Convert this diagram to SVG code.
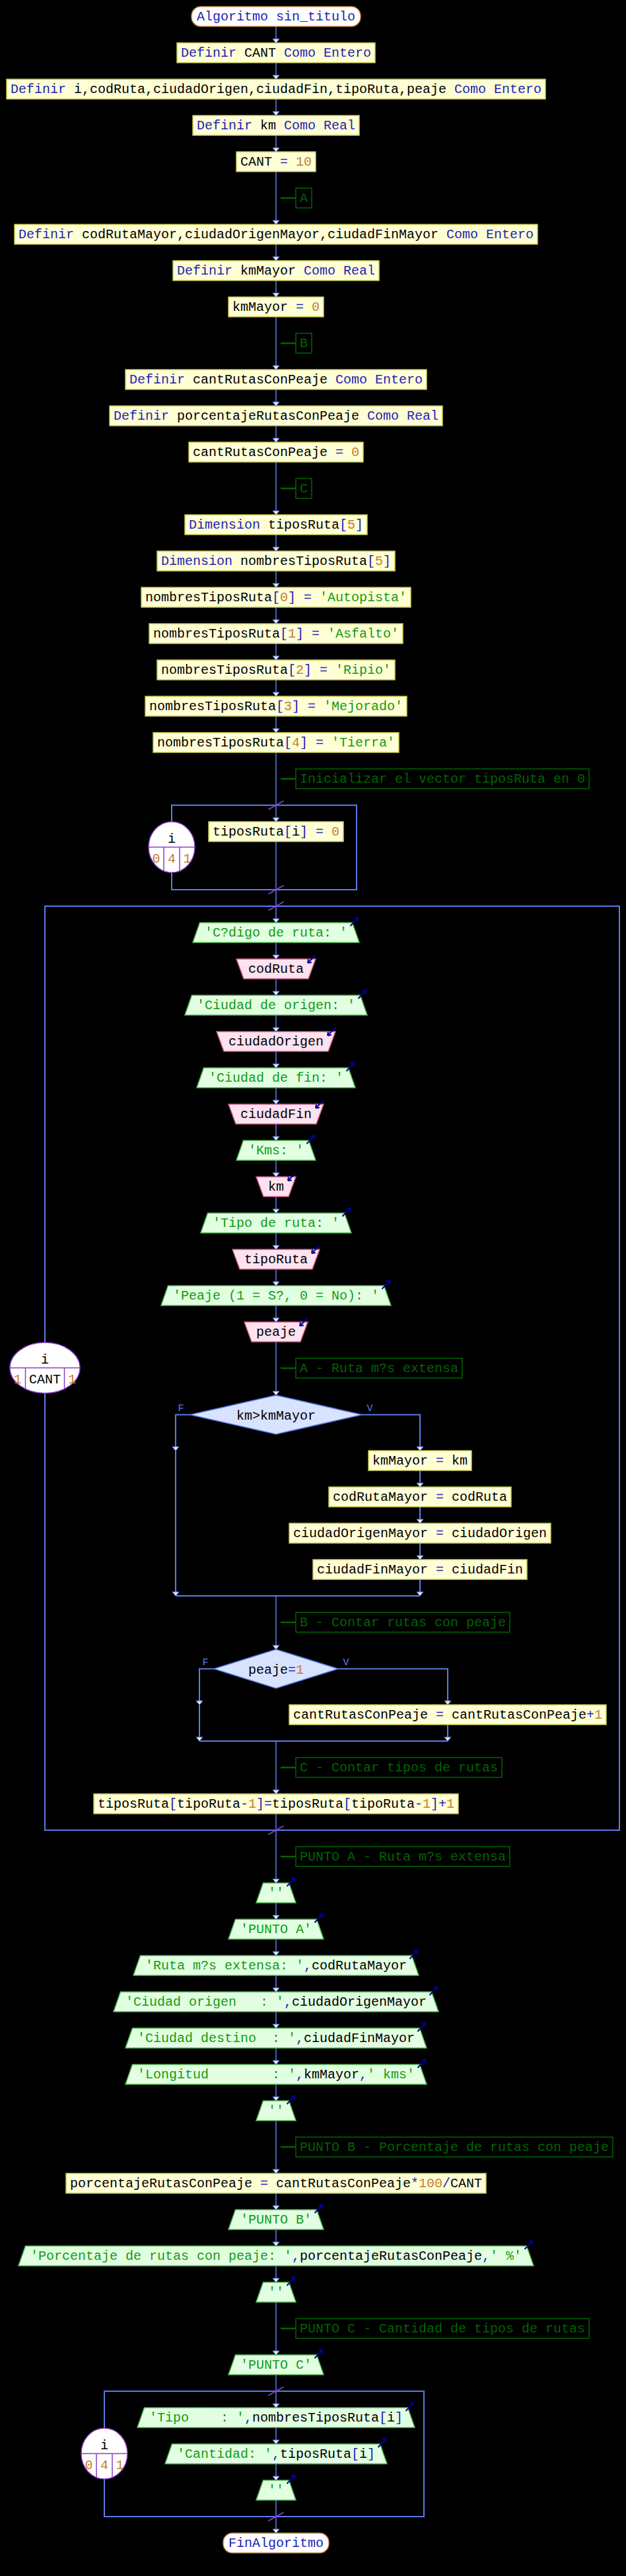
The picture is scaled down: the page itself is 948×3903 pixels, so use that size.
<svg xmlns="http://www.w3.org/2000/svg" width="948" height="3903" viewBox="0 0 948 3903">
<style>
.t{font-family:"Liberation Mono","DejaVu Sans Mono",monospace;font-size:20px;fill:#000;white-space:pre}
.m{text-anchor:middle}
.k{fill:#2323b5}
.n{fill:#c27d32}
.s{fill:#139b13}
.cmt{fill:#006400}
.pr{fill:#ffffd6;stroke:#c8c850;stroke-width:1.5}
.out{fill:#e2ffe2;stroke:#55bb55;stroke-width:1.5}
.in{fill:#ffe2ef;stroke:#cc5c8c;stroke-width:1.5}
.dec{fill:#d8e3ff;stroke:#5b7be8;stroke-width:1.5}
.term{fill:#fff;stroke:#c48a48;stroke-width:1.5}
.cb{fill:none;stroke:#006400;stroke-width:1.5}
.stub{stroke:#006400;stroke-width:2.5}
.ln{fill:none;stroke:#5b7be8;stroke-width:1.5}
.lp{fill:none;stroke:#5b7be8;stroke-width:2}
.sl{stroke:#8a3cc8;stroke-width:2}
.el{fill:#fff;stroke:#8a3cc8;stroke-width:1.5}
.ed{stroke:#8a3cc8;stroke-width:1.5}
.io{fill:none;stroke:#000099;stroke-width:2}
.fv{font-family:"Liberation Mono",monospace;font-size:15px;fill:#5b7be8;text-anchor:middle}
</style>
<defs>
<marker id="ah" viewBox="-7 -6 8 12" refX="0" refY="0" markerWidth="8" markerHeight="12" markerUnits="userSpaceOnUse" orient="auto"><path d="M-6,-5 L0,0 L-6,5 Z" fill="#e4ebff" stroke="#5b7be8" stroke-width="1"/></marker>
<path id="oa" d="M-3,5 L9,-8 M9,-8 L3.1,-6.7 M9,-8 L8.2,-2.1" class="io"/>
<path id="ia" d="M0,-6 L-12,6 M-12,6 L-6.1,5 M-12,6 L-11,0.1" class="io"/>
</defs>
<rect x="0" y="0" width="948" height="3903" fill="#000"/>

<g id="connectors">
<g class="ln" marker-end="url(#ah)">
<path d="M418,40 V65"/><path d="M418,95 V120"/><path d="M418,150 V175"/><path d="M418,205 V230"/>
<path d="M418,260 V340"/><path d="M418,370 V395"/><path d="M418,425 V450"/><path d="M418,480 V560"/>
<path d="M418,590 V615"/><path d="M418,645 V670"/><path d="M418,700 V780"/><path d="M418,810 V835"/>
<path d="M418,865 V890"/><path d="M418,920 V945"/><path d="M418,975 V1000"/><path d="M418,1030 V1055"/>
<path d="M418,1085 V1110"/><path d="M418,1140 V1245"/><path d="M418,1348 V1398"/>
<path d="M418,1428 V1453"/><path d="M418,1483 V1508"/><path d="M418,1538 V1563"/><path d="M418,1593 V1618"/>
<path d="M418,1648 V1673"/><path d="M418,1703 V1728"/><path d="M418,1758 V1783"/><path d="M418,1813 V1838"/>
<path d="M418,1868 V1893"/><path d="M418,1923 V1948"/><path d="M418,1978 V2003"/><path d="M418,2033 V2114"/>
<path d="M418,2418 V2499"/><path d="M418,2638 V2718"/><path d="M418,2773 V2853"/>
<path d="M418,2883 V2908"/><path d="M418,2938 V2963"/><path d="M418,2993 V3018"/><path d="M418,3048 V3073"/>
<path d="M418,3103 V3128"/><path d="M418,3158 V3183"/><path d="M418,3213 V3293"/><path d="M418,3323 V3348"/>
<path d="M418,3378 V3403"/><path d="M418,3433 V3458"/><path d="M418,3488 V3568"/><path d="M418,3598 V3648"/>
<path d="M418,3678 V3703"/><path d="M418,3733 V3758"/><path d="M418,3788 V3838"/>
</g>
<path class="ln" d="M418,1275 V1348"/>
<path class="ln" d="M418,2748 V2773"/>
<g class="lp" marker-end="url(#ah)">
<path d="M288,2143.5 H266 V2198"/><path d="M266,2198 V2418"/>
<path d="M548,2143.5 H636 V2198"/>
<path d="M636,2228 V2253"/><path d="M636,2283 V2308"/><path d="M636,2338 V2363"/><path d="M636,2393 V2418"/>
<path d="M324,2528.5 H302 V2583"/><path d="M302,2583 V2638"/>
<path d="M512,2528.5 H678 V2583"/><path d="M678,2613 V2638"/>
</g>
<path class="lp" d="M266,2418 H636"/>
<path class="lp" d="M302,2638 H678"/>
<path class="lp" d="M260,1245 V1220 H540 V1348 H260 V1322"/>
<path class="lp" d="M68,2034 V1373 H938 V2773 H68 V2111"/>
<path class="lp" d="M158,3679 V3623 H642 V3813 H158 V3756"/>
<line class="sl" x1="406.5" y1="1226.5" x2="429.5" y2="1213.5"/>
<line class="sl" x1="406.5" y1="1354.5" x2="429.5" y2="1341.5"/>
<line class="sl" x1="406.5" y1="1379.5" x2="429.5" y2="1366.5"/>
<line class="sl" x1="406.5" y1="2779.5" x2="429.5" y2="2766.5"/>
<line class="sl" x1="406.5" y1="3629.5" x2="429.5" y2="3616.5"/>
<line class="sl" x1="406.5" y1="3819.5" x2="429.5" y2="3806.5"/>
<text class="fv" x="274" y="2138">F</text><text class="fv" x="560" y="2138">V</text>
<text class="fv" x="311" y="2523">F</text><text class="fv" x="524" y="2523">V</text>
</g>

<g id="start"><rect class="term" x="290" y="10" width="256" height="30" rx="14"/><text class="t m k" x="418" y="31">Algoritmo sin_titulo</text></g>
<g id="n2"><rect class="pr" x="268" y="65" width="300" height="30"/><text class="t m" x="418" y="86"><tspan class="k">Definir</tspan> CANT <tspan class="k">Como Entero</tspan></text></g>
<g id="n3"><rect class="pr" x="10" y="120" width="816" height="30"/><text class="t m" x="418" y="141"><tspan class="k">Definir</tspan> i,codRuta,ciudadOrigen,ciudadFin,tipoRuta,peaje <tspan class="k">Como Entero</tspan></text></g>
<g id="n4"><rect class="pr" x="292" y="175" width="252" height="30"/><text class="t m" x="418" y="196"><tspan class="k">Definir</tspan> km <tspan class="k">Como Real</tspan></text></g>
<g id="n5"><rect class="pr" x="358" y="230" width="120" height="30"/><text class="t m" x="418" y="251">CANT <tspan class="k">=</tspan> <tspan class="n">10</tspan></text></g>
<g id="c1"><line class="stub" x1="425" y1="300" x2="448" y2="300"/><rect class="cb" x="448" y="285" width="24" height="30"/><text class="t cmt" x="454" y="306">A</text></g>
<g id="n6"><rect class="pr" x="22" y="340" width="792" height="30"/><text class="t m" x="418" y="361"><tspan class="k">Definir</tspan> codRutaMayor,ciudadOrigenMayor,ciudadFinMayor <tspan class="k">Como Entero</tspan></text></g>
<g id="n7"><rect class="pr" x="262" y="395" width="312" height="30"/><text class="t m" x="418" y="416"><tspan class="k">Definir</tspan> kmMayor <tspan class="k">Como Real</tspan></text></g>
<g id="n8"><rect class="pr" x="346" y="450" width="144" height="30"/><text class="t m" x="418" y="471">kmMayor <tspan class="k">=</tspan> <tspan class="n">0</tspan></text></g>
<g id="c2"><line class="stub" x1="425" y1="520" x2="448" y2="520"/><rect class="cb" x="448" y="505" width="24" height="30"/><text class="t cmt" x="454" y="526">B</text></g>
<g id="n9"><rect class="pr" x="190" y="560" width="456" height="30"/><text class="t m" x="418" y="581"><tspan class="k">Definir</tspan> cantRutasConPeaje <tspan class="k">Como Entero</tspan></text></g>
<g id="n10"><rect class="pr" x="166" y="615" width="504" height="30"/><text class="t m" x="418" y="636"><tspan class="k">Definir</tspan> porcentajeRutasConPeaje <tspan class="k">Como Real</tspan></text></g>
<g id="n11"><rect class="pr" x="286" y="670" width="264" height="30"/><text class="t m" x="418" y="691">cantRutasConPeaje <tspan class="k">=</tspan> <tspan class="n">0</tspan></text></g>
<g id="c3"><line class="stub" x1="425" y1="740" x2="448" y2="740"/><rect class="cb" x="448" y="725" width="24" height="30"/><text class="t cmt" x="454" y="746">C</text></g>
<g id="n12"><rect class="pr" x="280" y="780" width="276" height="30"/><text class="t m" x="418" y="801"><tspan class="k">Dimension</tspan> tiposRuta<tspan class="k">[</tspan><tspan class="n">5</tspan><tspan class="k">]</tspan></text></g>
<g id="n13"><rect class="pr" x="238" y="835" width="360" height="30"/><text class="t m" x="418" y="856"><tspan class="k">Dimension</tspan> nombresTiposRuta<tspan class="k">[</tspan><tspan class="n">5</tspan><tspan class="k">]</tspan></text></g>
<g id="n14"><rect class="pr" x="214" y="890" width="408" height="30"/><text class="t m" x="418" y="911">nombresTiposRuta<tspan class="k">[</tspan><tspan class="n">0</tspan><tspan class="k">]</tspan> <tspan class="k">=</tspan> <tspan class="s">'Autopista'</tspan></text></g>
<g id="n15"><rect class="pr" x="226" y="945" width="384" height="30"/><text class="t m" x="418" y="966">nombresTiposRuta<tspan class="k">[</tspan><tspan class="n">1</tspan><tspan class="k">]</tspan> <tspan class="k">=</tspan> <tspan class="s">'Asfalto'</tspan></text></g>
<g id="n16"><rect class="pr" x="238" y="1000" width="360" height="30"/><text class="t m" x="418" y="1021">nombresTiposRuta<tspan class="k">[</tspan><tspan class="n">2</tspan><tspan class="k">]</tspan> <tspan class="k">=</tspan> <tspan class="s">'Ripio'</tspan></text></g>
<g id="n17"><rect class="pr" x="220" y="1055" width="396" height="30"/><text class="t m" x="418" y="1076">nombresTiposRuta<tspan class="k">[</tspan><tspan class="n">3</tspan><tspan class="k">]</tspan> <tspan class="k">=</tspan> <tspan class="s">'Mejorado'</tspan></text></g>
<g id="n18"><rect class="pr" x="232" y="1110" width="372" height="30"/><text class="t m" x="418" y="1131">nombresTiposRuta<tspan class="k">[</tspan><tspan class="n">4</tspan><tspan class="k">]</tspan> <tspan class="k">=</tspan> <tspan class="s">'Tierra'</tspan></text></g>
<g id="c4"><line class="stub" x1="425" y1="1180" x2="448" y2="1180"/><rect class="cb" x="448" y="1165" width="444" height="30"/><text class="t cmt" x="454" y="1186">Inicializar el vector tiposRuta en 0</text></g>
<g id="loop1"><ellipse class="el" cx="260" cy="1283.5" rx="35" ry="38.5"/><line class="ed" x1="225" y1="1283.5" x2="295" y2="1283.5"/><line class="ed" x1="248" y1="1283.5" x2="248" y2="1319.7"/><line class="ed" x1="272" y1="1283.5" x2="272" y2="1319.7"/><text class="t m" x="260" y="1277">i</text><text class="t m n" x="236.5" y="1307">0</text><text class="t m n" x="260" y="1307">4</text><text class="t m n" x="283.5" y="1307">1</text></g>
<g id="n19"><rect class="pr" x="316" y="1245" width="204" height="30"/><text class="t m" x="418" y="1266">tiposRuta<tspan class="k">[</tspan>i<tspan class="k">]</tspan> <tspan class="k">=</tspan> <tspan class="n">0</tspan></text></g>
<g id="loop2"><ellipse class="el" cx="68" cy="2072.5" rx="53" ry="38.5"/><line class="ed" x1="15" y1="2072.5" x2="121" y2="2072.5"/><line class="ed" x1="38.5" y1="2072.5" x2="38.5" y2="2104.5"/><line class="ed" x1="97.5" y1="2072.5" x2="97.5" y2="2104.5"/><text class="t m" x="68" y="2066">i</text><text class="t m n" x="26.75" y="2096">1</text><text class="t m" x="68" y="2096">CANT</text><text class="t m n" x="109.25" y="2096">1</text></g>
<g id="n20"><polygon class="out" points="302.5,1398 533.5,1398 544,1428 292,1428"/><text class="t m s" x="418" y="1419">'C?digo de ruta: '</text><use href="#oa" x="533.5" y="1398"/></g>
<g id="n21"><polygon class="in" points="358,1453 478,1453 467,1483 369,1483"/><text class="t m" x="418" y="1474">codRuta</text><use href="#ia" x="478" y="1453"/></g>
<g id="n22"><polygon class="out" points="290.5,1508 545.5,1508 556,1538 280,1538"/><text class="t m s" x="418" y="1529">'Ciudad de origen: '</text><use href="#oa" x="545.5" y="1508"/></g>
<g id="n23"><polygon class="in" points="328,1563 508,1563 497,1593 339,1593"/><text class="t m" x="418" y="1584">ciudadOrigen</text><use href="#ia" x="508" y="1563"/></g>
<g id="n24"><polygon class="out" points="308.5,1618 527.5,1618 538,1648 298,1648"/><text class="t m s" x="418" y="1639">'Ciudad de fin: '</text><use href="#oa" x="527.5" y="1618"/></g>
<g id="n25"><polygon class="in" points="346,1673 490,1673 479,1703 357,1703"/><text class="t m" x="418" y="1694">ciudadFin</text><use href="#ia" x="490" y="1673"/></g>
<g id="n26"><polygon class="out" points="368.5,1728 467.5,1728 478,1758 358,1758"/><text class="t m s" x="418" y="1749">'Kms: '</text><use href="#oa" x="467.5" y="1728"/></g>
<g id="n27"><polygon class="in" points="388,1783 448,1783 437,1813 399,1813"/><text class="t m" x="418" y="1804">km</text><use href="#ia" x="448" y="1783"/></g>
<g id="n28"><polygon class="out" points="314.5,1838 521.5,1838 532,1868 304,1868"/><text class="t m s" x="418" y="1859">'Tipo de ruta: '</text><use href="#oa" x="521.5" y="1838"/></g>
<g id="n29"><polygon class="in" points="352,1893 484,1893 473,1923 363,1923"/><text class="t m" x="418" y="1914">tipoRuta</text><use href="#ia" x="484" y="1893"/></g>
<g id="n30"><polygon class="out" points="254.5,1948 581.5,1948 592,1978 244,1978"/><text class="t m s" x="418" y="1969">'Peaje (1 = S?, 0 = No): '</text><use href="#oa" x="581.5" y="1948"/></g>
<g id="n31"><polygon class="in" points="370,2003 466,2003 455,2033 381,2033"/><text class="t m" x="418" y="2024">peaje</text><use href="#ia" x="466" y="2003"/></g>
<g id="c5"><line class="stub" x1="425" y1="2073" x2="448" y2="2073"/><rect class="cb" x="448" y="2058" width="252" height="30"/><text class="t cmt" x="454" y="2079">A - Ruta m?s extensa</text></g>
<g id="d1"><polygon class="dec" points="418,2114 548,2143.5 418,2173 288,2143.5"/><text class="t m" x="418" y="2150.5">km&gt;kmMayor</text></g>
<g id="n33"><rect class="pr" x="558" y="2198" width="156" height="30"/><text class="t m" x="636" y="2219">kmMayor <tspan class="k">=</tspan> km</text></g>
<g id="n34"><rect class="pr" x="498" y="2253" width="276" height="30"/><text class="t m" x="636" y="2274">codRutaMayor <tspan class="k">=</tspan> codRuta</text></g>
<g id="n35"><rect class="pr" x="438" y="2308" width="396" height="30"/><text class="t m" x="636" y="2329">ciudadOrigenMayor <tspan class="k">=</tspan> ciudadOrigen</text></g>
<g id="n36"><rect class="pr" x="474" y="2363" width="324" height="30"/><text class="t m" x="636" y="2384">ciudadFinMayor <tspan class="k">=</tspan> ciudadFin</text></g>
<g id="c6"><line class="stub" x1="425" y1="2458" x2="448" y2="2458"/><rect class="cb" x="448" y="2443" width="324" height="30"/><text class="t cmt" x="454" y="2464">B - Contar rutas con peaje</text></g>
<g id="d2"><polygon class="dec" points="418,2499 512,2528.5 418,2558 324,2528.5"/><text class="t m" x="418" y="2535.5">peaje<tspan class="k">=</tspan><tspan class="n">1</tspan></text></g>
<g id="n38"><rect class="pr" x="438" y="2583" width="480" height="30"/><text class="t m" x="678" y="2604">cantRutasConPeaje <tspan class="k">=</tspan> cantRutasConPeaje<tspan class="k">+</tspan><tspan class="n">1</tspan></text></g>
<g id="c7"><line class="stub" x1="425" y1="2678" x2="448" y2="2678"/><rect class="cb" x="448" y="2663" width="312" height="30"/><text class="t cmt" x="454" y="2684">C - Contar tipos de rutas</text></g>
<g id="n39"><rect class="pr" x="142" y="2718" width="552" height="30"/><text class="t m" x="418" y="2739">tiposRuta<tspan class="k">[</tspan>tipoRuta<tspan class="k">-</tspan><tspan class="n">1</tspan><tspan class="k">]=</tspan>tiposRuta<tspan class="k">[</tspan>tipoRuta<tspan class="k">-</tspan><tspan class="n">1</tspan><tspan class="k">]+</tspan><tspan class="n">1</tspan></text></g>
<g id="c8"><line class="stub" x1="425" y1="2813" x2="448" y2="2813"/><rect class="cb" x="448" y="2798" width="324" height="30"/><text class="t cmt" x="454" y="2819">PUNTO A - Ruta m?s extensa</text></g>
<g id="n40"><polygon class="out" points="398.5,2853 437.5,2853 448,2883 388,2883"/><text class="t m s" x="418" y="2874">''</text><use href="#oa" x="437.5" y="2853"/></g>
<g id="n41"><polygon class="out" points="356.5,2908 479.5,2908 490,2938 346,2938"/><text class="t m s" x="418" y="2929">'PUNTO A'</text><use href="#oa" x="479.5" y="2908"/></g>
<g id="n42"><polygon class="out" points="212.5,2963 623.5,2963 634,2993 202,2993"/><text class="t m" x="418" y="2984"><tspan class="s">'Ruta m?s extensa: '</tspan><tspan class="k">,</tspan>codRutaMayor</text><use href="#oa" x="623.5" y="2963"/></g>
<g id="n43"><polygon class="out" points="182.5,3018 653.5,3018 664,3048 172,3048"/><text class="t m" x="418" y="3039" xml:space="preserve"><tspan class="s">'Ciudad origen   : '</tspan><tspan class="k">,</tspan>ciudadOrigenMayor</text><use href="#oa" x="653.5" y="3018"/></g>
<g id="n44"><polygon class="out" points="200.5,3073 635.5,3073 646,3103 190,3103"/><text class="t m" x="418" y="3094" xml:space="preserve"><tspan class="s">'Ciudad destino  : '</tspan><tspan class="k">,</tspan>ciudadFinMayor</text><use href="#oa" x="635.5" y="3073"/></g>
<g id="n45"><polygon class="out" points="200.5,3128 635.5,3128 646,3158 190,3158"/><text class="t m" x="418" y="3149" xml:space="preserve"><tspan class="s">'Longitud        : '</tspan><tspan class="k">,</tspan>kmMayor<tspan class="k">,</tspan><tspan class="s">' kms'</tspan></text><use href="#oa" x="635.5" y="3128"/></g>
<g id="n46"><polygon class="out" points="398.5,3183 437.5,3183 448,3213 388,3213"/><text class="t m s" x="418" y="3204">''</text><use href="#oa" x="437.5" y="3183"/></g>
<g id="c9"><line class="stub" x1="425" y1="3253" x2="448" y2="3253"/><rect class="cb" x="448" y="3238" width="480" height="30"/><text class="t cmt" x="454" y="3259">PUNTO B - Porcentaje de rutas con peaje</text></g>
<g id="n47"><rect class="pr" x="100" y="3293" width="636" height="30"/><text class="t m" x="418" y="3314">porcentajeRutasConPeaje <tspan class="k">=</tspan> cantRutasConPeaje<tspan class="k">*</tspan><tspan class="n">100</tspan><tspan class="k">/</tspan>CANT</text></g>
<g id="n48"><polygon class="out" points="356.5,3348 479.5,3348 490,3378 346,3378"/><text class="t m s" x="418" y="3369">'PUNTO B'</text><use href="#oa" x="479.5" y="3348"/></g>
<g id="n49"><polygon class="out" points="38.5,3403 797.5,3403 808,3433 28,3433"/><text class="t m" x="418" y="3424"><tspan class="s">'Porcentaje de rutas con peaje: '</tspan><tspan class="k">,</tspan>porcentajeRutasConPeaje<tspan class="k">,</tspan><tspan class="s">' %'</tspan></text><use href="#oa" x="797.5" y="3403"/></g>
<g id="n50"><polygon class="out" points="398.5,3458 437.5,3458 448,3488 388,3488"/><text class="t m s" x="418" y="3479">''</text><use href="#oa" x="437.5" y="3458"/></g>
<g id="c10"><line class="stub" x1="425" y1="3528" x2="448" y2="3528"/><rect class="cb" x="448" y="3513" width="444" height="30"/><text class="t cmt" x="454" y="3534">PUNTO C - Cantidad de tipos de rutas</text></g>
<g id="n51"><polygon class="out" points="356.5,3568 479.5,3568 490,3598 346,3598"/><text class="t m s" x="418" y="3589">'PUNTO C'</text><use href="#oa" x="479.5" y="3568"/></g>
<g id="loop3"><ellipse class="el" cx="158" cy="3717.5" rx="35" ry="38.5"/><line class="ed" x1="123" y1="3717.5" x2="193" y2="3717.5"/><line class="ed" x1="146" y1="3717.5" x2="146" y2="3753.7"/><line class="ed" x1="170" y1="3717.5" x2="170" y2="3753.7"/><text class="t m" x="158" y="3711">i</text><text class="t m n" x="134.5" y="3741">0</text><text class="t m n" x="158" y="3741">4</text><text class="t m n" x="181.5" y="3741">1</text></g>
<g id="n52"><polygon class="out" points="218.5,3648 617.5,3648 628,3678 208,3678"/><text class="t m" x="418" y="3669" xml:space="preserve"><tspan class="s">'Tipo    : '</tspan><tspan class="k">,</tspan>nombresTiposRuta<tspan class="k">[</tspan>i<tspan class="k">]</tspan></text><use href="#oa" x="617.5" y="3648"/></g>
<g id="n53"><polygon class="out" points="260.5,3703 575.5,3703 586,3733 250,3733"/><text class="t m" x="418" y="3724"><tspan class="s">'Cantidad: '</tspan><tspan class="k">,</tspan>tiposRuta<tspan class="k">[</tspan>i<tspan class="k">]</tspan></text><use href="#oa" x="575.5" y="3703"/></g>
<g id="n54"><polygon class="out" points="398.5,3758 437.5,3758 448,3788 388,3788"/><text class="t m s" x="418" y="3779">''</text><use href="#oa" x="437.5" y="3758"/></g>
<g id="end"><rect class="term" x="338" y="3838" width="160" height="30" rx="14"/><text class="t m k" x="418" y="3859">FinAlgoritmo</text></g>
</svg>
